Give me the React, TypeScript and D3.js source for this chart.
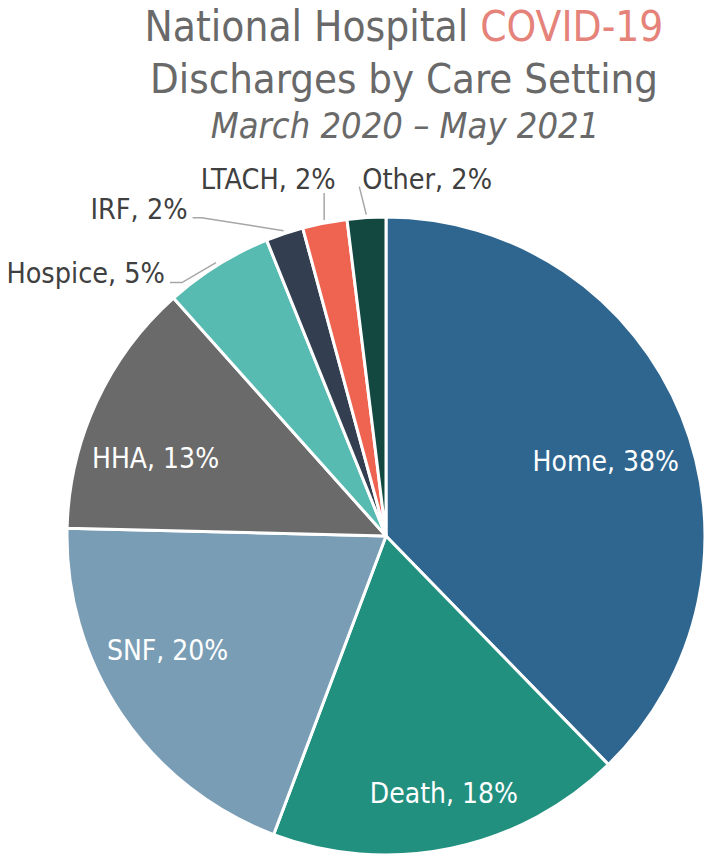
import React, { useRef, useEffect } from 'react';
import * as d3 from 'd3';

// slice values (share of discharges, %), clockwise from 12 o'clock
const categories = ['Home', 'Death', 'SNF', 'HHA', 'Hospice', 'IRF', 'LTACH', 'Other'];
const values = [37.7, 18.0, 19.65, 13.0, 5.5, 1.9, 2.25, 1.95];
const shownPct = ['38%', '18%', '20%', '13%', '5%', '2%', '2%', '2%'];
const colors = ['#2f6690', '#22907f', '#7a9db6', '#6a6a6a', '#57bbb1', '#333f50', '#ef6351', '#134841'];

const titleLines = ['National Hospital ', 'COVID-19', 'Discharges by Care Setting', 'March 2020 \u2013 May 2021'];

// inside labels: nudge from the arc centroid
const insideNudge: Record<string, [number, number]> = {
  Home: [7, 12],
  Death: [11, 32],
  SNF: [-28, -14],
  HHA: [-22, 19],
};

// outside labels (leader line bend/end + text spot, relative to arc point)
const outside: Record<string, { pts: [number, number][]; tx: number; ty: number; anchor: string }> = {
  Hospice: { pts: [[-34, 20], [-46, 20]], tx: -51, ty: 20, anchor: 'end' },
  IRF: { pts: [[-82, -13], [-91, -13]], tx: -96, ty: -12, anchor: 'end' },
  LTACH: { pts: [[0, -27]], tx: -56, ty: -31, anchor: 'middle' },
  Other: { pts: [[-7, -28]], tx: -4, ty: -26, anchor: 'start' },
};

export default function App() {
  const svgRef = useRef<SVGSVGElement>(null);

  useEffect(() => {
    const width = 707;
    const height = 854;
    const cx = 386;
    const cy = 536;
    const r = 319;
    const font = '"DejaVu Sans Condensed", "DejaVu Sans", sans-serif';

    const svg = d3.select(svgRef.current);
    svg.selectAll('*').remove();
    svg.attr('width', width).attr('height', height).attr('viewBox', [0, 0, width, height].join(' '));

    const data = categories.map((c, i) => ({ name: c, value: values[i], pct: shownPct[i], color: colors[i] }));

    const pie = d3.pie<any>().sort(null).value(d => d.value);
    const arcs = pie(data);
    const arc = d3.arc<any>().innerRadius(0).outerRadius(r);

    const g = svg.append('g').attr('transform', `translate(${cx},${cy})`);

    g.selectAll('path')
      .data(arcs)
      .join('path')
      .attr('d', arc)
      .attr('fill', d => d.data.color)
      .attr('stroke', '#fff')
      .attr('stroke-width', 3)
      .attr('stroke-linejoin', 'round');

    // inside labels
    const inner = arcs.filter(a => !outside[a.data.name]);
    const labelArc = d3.arc<any>().innerRadius(r * 0.72).outerRadius(r * 0.72);
    g.selectAll('text.in')
      .data(inner)
      .join('text')
      .attr('class', 'in')
      .attr('transform', d => {
        const [x, y] = labelArc.centroid(d);
        const [nx, ny] = insideNudge[d.data.name] || [0, 0];
        return `translate(${x + nx},${y + ny})`;
      })
      .attr('text-anchor', 'middle')
      .attr('dy', '0.35em')
      .attr('fill', '#fff')
      .attr('font-family', font)
      .attr('font-size', 28)
      .text(d => `${d.data.name}, ${d.data.pct}`);

    // outside labels with leader lines
    const edge = d3.arc<any>().innerRadius(r + 3).outerRadius(r + 3);
    arcs.filter(a => outside[a.data.name]).forEach(a => {
      const o = outside[a.data.name];
      const [sx, sy] = edge.centroid(a);
      const pts: [number, number][] = [[sx, sy], ...o.pts.map(([dx, dy]) => [sx + dx, sy + dy] as [number, number])];
      g.append('path')
        .attr('d', d3.line()(pts))
        .attr('fill', 'none')
        .attr('stroke', '#a6a6a6')
        .attr('stroke-width', 1.5);
      g.append('text')
        .attr('x', sx + o.tx)
        .attr('y', sy + o.ty)
        .attr('text-anchor', o.anchor)
        .attr('fill', '#404040')
        .attr('font-family', font)
        .attr('font-size', 28.5)
        .text(`${a.data.name}, ${a.data.pct}`);
    });

    // title
    const t1 = svg.append('text')
      .attr('x', 404).attr('y', 41)
      .attr('text-anchor', 'middle')
      .attr('font-family', font)
      .attr('font-size', 42)
      .attr('fill', '#696969');
    t1.append('tspan').text(titleLines[0]);
    t1.append('tspan').attr('fill', '#e5837a').text(titleLines[1]);

    svg.append('text')
      .attr('x', 404).attr('y', 93)
      .attr('text-anchor', 'middle')
      .attr('font-family', font)
      .attr('font-size', 41.5)
      .attr('fill', '#696969')
      .text(titleLines[2]);

    svg.append('text')
      .attr('x', 405).attr('y', 138)
      .attr('text-anchor', 'middle')
      .attr('font-family', font)
      .attr('font-style', 'italic')
      .attr('font-size', 36)
      .attr('fill', '#696969')
      .text(titleLines[3]);
  }, []);

  return (
    <div style={{ position: 'absolute', left: 0, top: 0 }}>
      <svg ref={svgRef} style={{ display: 'block' }}></svg>
    </div>
  );
}
